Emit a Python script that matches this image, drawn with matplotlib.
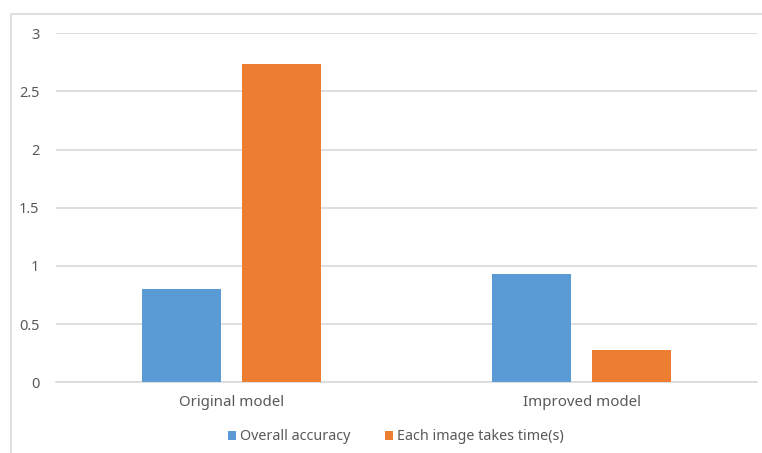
import numpy as np
import matplotlib.pyplot as plt
from matplotlib.patches import Rectangle

# Model comparison data
models = ["Original model", "Improved model"]
accuracy = [0.80, 0.93]
time_per_image = [2.74, 0.275]
yticks = [0, 0.5, 1, 1.5, 2, 2.5, 3]
yticklabels = ["0", "0.5", "1", "1.5", "2", "2.5", "3"]

blue = "#5b9bd5"
orange = "#ed7d31"
grid = "#d9d9d9"
text = "#595959"

plt.rcParams["font.family"] = ["Noto Sans", "DejaVu Sans"]

fig = plt.figure(figsize=(7.62, 4.53), dpi=100)
ax = fig.add_axes([56 / 762, 70.7 / 453, 701 / 762, 349 / 453])

x = np.arange(len(models))
w = 0.225
gap = 0.06
ax.bar(x - (w + gap) / 2, accuracy, w, color=blue, label="Overall accuracy", zorder=3)
ax.bar(x + (w + gap) / 2, time_per_image, w, color=orange,
       label="Each image takes time(s)", zorder=3)

ax.set_xlim(-0.5, 1.5)
ax.set_ylim(0, 3)
ax.set_yticks(yticks)
ax.set_yticklabels(yticklabels)
ax.set_xticks(x)
ax.set_xticklabels(models)
ax.yaxis.grid(True, color=grid, linewidth=1.2, zorder=0)
ax.set_axisbelow(True)
for s in ["top", "right", "left"]:
    ax.spines[s].set_visible(False)
ax.spines["bottom"].set_color(grid)
ax.spines["bottom"].set_linewidth(1.2)
ax.tick_params(axis="both", length=0, colors=text)
ax.tick_params(axis="y", pad=12, labelsize=10.5)
ax.tick_params(axis="x", pad=9, labelsize=10.8)

leg = fig.legend(loc="center", bbox_to_anchor=(396 / 762, 1 - 437 / 453), ncol=2,
                 frameon=False, fontsize=10.3, handlelength=0.55, handleheight=0.55,
                 handletextpad=0.3, columnspacing=2.4)
for t in leg.get_texts():
    t.set_color(text)

# chart area border (top and left edges visible)
fig.patches.append(Rectangle((10.5 / 762, -0.05), 1.0, 1.05 - 13.7 / 453,
                             transform=fig.transFigure, fill=False,
                             edgecolor=grid, linewidth=1.2))

fig.savefig("out.png", dpi=100)
